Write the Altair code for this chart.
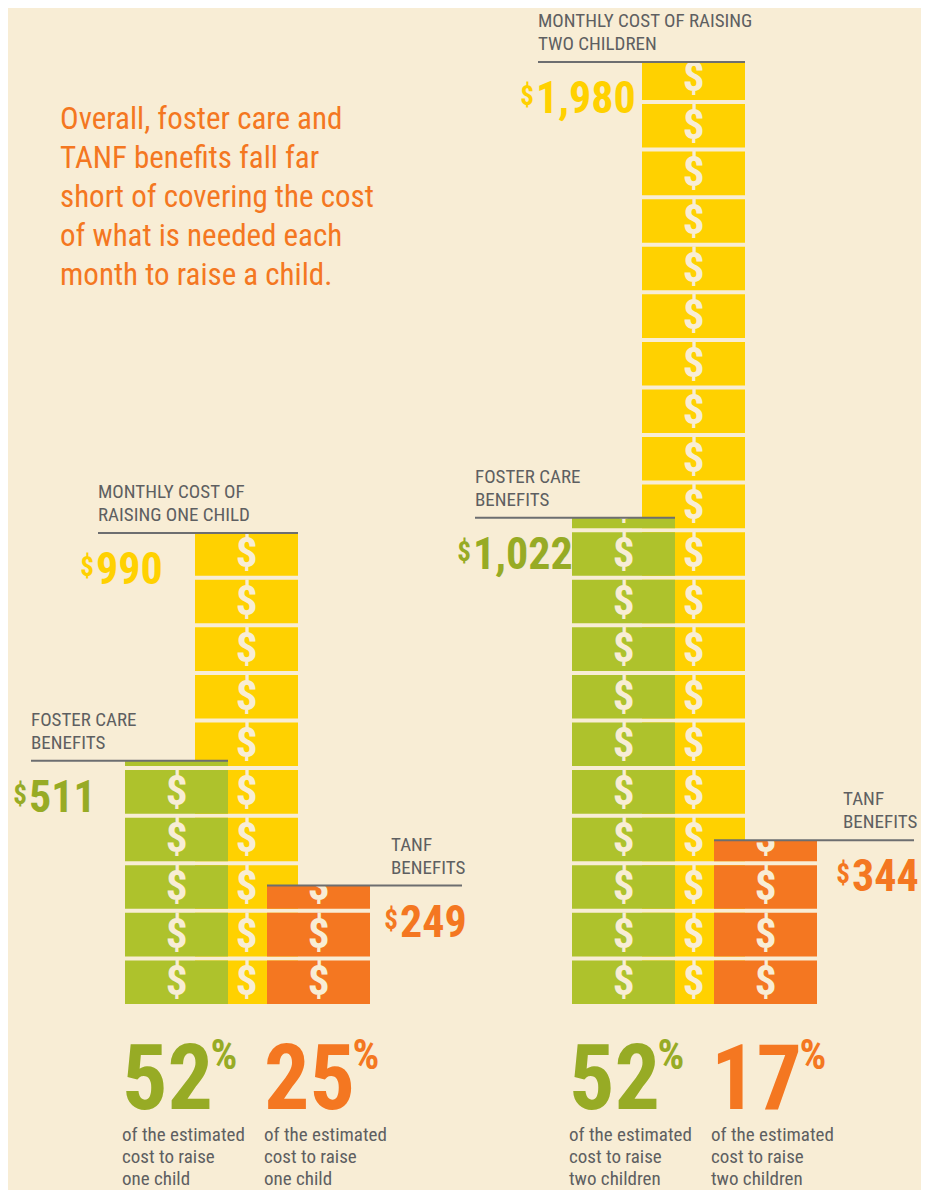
import math
import altair as alt
import pandas as pd

# ---------------- data ----------------
groups = ["one child", "two children"]
monthly_cost = [990, 1980]
foster_care = [511, 1022]
tanf = [249, 344]
foster_pct = [52, 52]
tanf_pct = [25, 17]
cost_labels = ["MONTHLY COST OF\nRAISING ONE CHILD", "MONTHLY COST OF RAISING\nTWO CHILDREN"]
foster_labels = ["FOSTER CARE\nBENEFITS", "FOSTER CARE\nBENEFITS"]
tanf_labels = ["TANF\nBENEFITS", "TANF\nBENEFITS"]
pct_notes = ["of the estimated\ncost to raise\none child",
             "of the estimated\ncost to raise\ntwo children"]
headline = ("Overall, foster care and\nTANF benefits fall far\nshort of covering the cost\n"
            "of what is needed each\nmonth to raise a child.")

# ---------------- layout / style ----------------
W, H = 913, 1182
BASE_PX = 996                 # pixel row of $0
K = 0.4758                    # pixels per dollar
Y_MAX = BASE_PX / K
Y_MIN = -(H - BASE_PX) / K
COIN = 100                    # dollars per coin
GAP = 4 / K                   # gap between coins in dollars
BAR_W = 103
GROUP_X0 = [117, 564]
SERIES_DX = {"yellow": 70, "green": 0, "orange": 142}

BG = "#F8EDD5"
YELLOW = "#FFD100"
GREEN = "#AEC22C"
GREEN_TXT = "#97AB25"
ORANGE = "#F47721"
GREY = "#5E5F61"
RULE = "#6D6E70"
FONT = "Roboto Condensed, Liberation Sans Narrow, DejaVu Sans Condensed, sans-serif"
DIGIT_EM = 0.47

COLORS = {"yellow": YELLOW, "green": GREEN, "orange": ORANGE}
TXT_COLORS = {"yellow": YELLOW, "green": GREEN_TXT, "orange": ORANGE}
VALUES = {"yellow": monthly_cost, "green": foster_care, "orange": tanf}
LABELS = {"yellow": cost_labels, "green": foster_labels, "orange": tanf_labels}
LABEL_X = {"yellow": [90, 530], "green": [23, 467], "orange": [383, 835]}
ORANGE_LABEL_W = 71

xs = alt.Scale(domain=[0, W], nice=False, zero=False)
ys = alt.Scale(domain=[Y_MIN, Y_MAX], nice=False, zero=False)


def X(f):
    return alt.X(f"{f}:Q", scale=xs, axis=None)


def Y(f):
    return alt.Y(f"{f}:Q", scale=ys, axis=None)


def bar_left(g, s):
    return GROUP_X0[g] + SERIES_DX[s]


coin_rows, glyph_rows, cover_rows = [], [], []
for s in ["yellow", "green", "orange"]:
    for g in range(len(groups)):
        v = VALUES[s][g]
        x0 = bar_left(g, s)
        xc = x0 + BAR_W / 2
        n = math.ceil(v / COIN)
        for i in range(n):
            y0 = i * COIN
            y1 = min(y0 + COIN - GAP, v)
            coin_rows.append({"s": s, "x": x0, "x2": x0 + BAR_W, "y": y0, "y2": y1})
            glyph_rows.append({"x": xc, "y": y0 + (COIN - GAP) / 2})
        cover_rows.append({"x": xc - 15, "x2": xc + 15, "y": v, "y2": v + 110})

coins = pd.DataFrame(coin_rows)
layers = []
for s in ["yellow", "green", "orange"]:
    layers.append(
        alt.Chart(coins[coins.s == s]).mark_rect(color=COLORS[s]).encode(
            x=X("x"), x2="x2", y=Y("y"), y2="y2")
    )
layers.append(
    alt.Chart(pd.DataFrame(glyph_rows)).mark_text(
        text="$", font=FONT, fontSize=43, fontWeight="bold", color=BG,
        align="center", baseline="middle").encode(x=X("x"), y=Y("y"))
)
layers.append(
    alt.Chart(pd.DataFrame(cover_rows)).mark_rect(color=BG).encode(
        x=X("x"), x2="x2", y=Y("y"), y2="y2")
)

rule_rows, label_rows, amt_rows = [], [], []
for s in ["yellow", "green", "orange"]:
    for g in range(len(groups)):
        v = VALUES[s][g]
        lx = LABEL_X[s][g]
        x0 = bar_left(g, s)
        if s == "orange":
            rx1, rx2 = x0, lx + ORANGE_LABEL_W
            dx_digits = lx + 9
        else:
            rx1, rx2 = lx, x0 + BAR_W
            dx_digits = lx - 2
        rule_rows.append({"x": rx1, "x2": rx2, "y": v})
        label_rows.append({"x": lx, "y": v, "t": LABELS[s][g]})
        amt_rows.append({"x": dx_digits, "sx": dx_digits - 2, "y": v,
                         "t": f"{v:,}", "c": TXT_COLORS[s]})

layers.append(
    alt.Chart(pd.DataFrame(rule_rows)).mark_rule(color=RULE, strokeWidth=2).encode(
        x=X("x"), x2="x2", y=Y("y"))
)
layers.append(
    alt.Chart(pd.DataFrame(label_rows)).mark_text(
        font=FONT, fontSize=19, color=GREY, align="left", baseline="alphabetic",
        dy=-35, lineBreak="\n", lineHeight=23).encode(x=X("x"), y=Y("y"), text="t:N")
)
amt = pd.DataFrame(amt_rows)
layers.append(
    alt.Chart(amt).mark_text(
        font=FONT, fontSize=44, fontWeight="bold", align="left", baseline="alphabetic",
        dy=51).encode(x=X("x"), y=Y("y"), text="t:N", color=alt.Color("c:N", scale=None))
)
layers.append(
    alt.Chart(amt).mark_text(
        text="$", font=FONT, fontSize=27, fontWeight="bold", align="right",
        baseline="alphabetic", dy=43).encode(x=X("sx"), y=Y("y"),
                                            color=alt.Color("c:N", scale=None))
)

layers.append(
    alt.Chart(pd.DataFrame({"t": [headline]})).mark_text(
        font=FONT, fontSize=31, color=ORANGE, align="left", baseline="alphabetic",
        lineBreak="\n", lineHeight=39).encode(x=alt.value(52), y=alt.value(121), text="t:N")
)

PCT_FS = 90
pct_rows, note_rows = [], []
for g in range(len(groups)):
    for s, pv in [("green", foster_pct[g]), ("orange", tanf_pct[g])]:
        x0 = bar_left(g, s)
        txt = str(pv)
        pct_rows.append({"x": x0 - 3, "px": x0 - 3 + len(txt) * DIGIT_EM * PCT_FS + 4,
                         "t": txt, "c": TXT_COLORS[s]})
        note_rows.append({"x": x0 - 3, "t": pct_notes[g]})
pct = pd.DataFrame(pct_rows)
layers.append(
    alt.Chart(pct).mark_text(
        font=FONT, fontSize=PCT_FS, fontWeight="bold", align="left",
        baseline="alphabetic").encode(x=X("x"), y=alt.value(1101), text="t:N",
                                      color=alt.Color("c:N", scale=None))
)
layers.append(
    alt.Chart(pct).mark_text(
        text="%", font=FONT, fontSize=42, fontWeight="bold", align="left",
        baseline="alphabetic").encode(x=X("px"), y=alt.value(1061),
                                      color=alt.Color("c:N", scale=None))
)
layers.append(
    alt.Chart(pd.DataFrame(note_rows)).mark_text(
        font=FONT, fontSize=19, color=GREY, align="left", baseline="alphabetic",
        lineBreak="\n", lineHeight=22).encode(x=X("x"), y=alt.value(1133), text="t:N")
)

chart = alt.layer(*layers).properties(
    width=W, height=H, background=BG, padding=0,
    autosize=alt.AutoSizeParams(type="none"),
).configure_view(stroke=None)

chart.save("out.html", embed_options={"renderer": "svg", "actions": False})
